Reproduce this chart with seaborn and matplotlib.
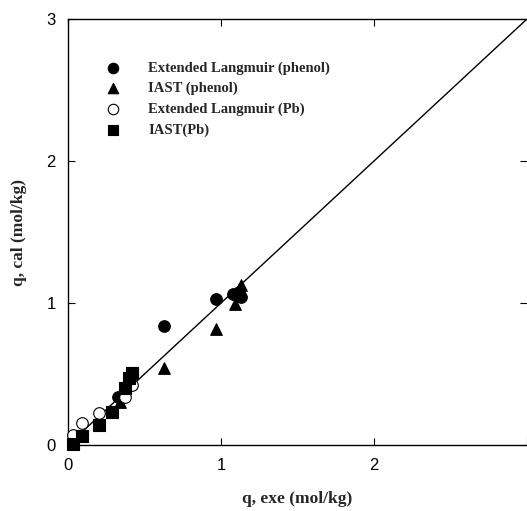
import numpy as np
import pandas as pd
import matplotlib
matplotlib.use("Agg")
import matplotlib.pyplot as plt
import seaborn as sns

# =====================
# DATA
# =====================
el_phenol_x = [0.33, 0.63, 0.97, 1.08, 1.12, 1.13]
el_phenol_y = [0.34, 0.84, 1.03, 1.06, 1.08, 1.04]

iast_phenol_x = [0.34, 0.63, 0.97, 1.09, 1.12, 1.13]
iast_phenol_y = [0.30, 0.54, 0.82, 0.99, 1.10, 1.13]

el_pb_x = [0.03, 0.09, 0.20, 0.37, 0.42]
el_pb_y = [0.07, 0.155, 0.225, 0.34, 0.42]

iast_pb_x = [0.03, 0.09, 0.20, 0.29, 0.37, 0.40, 0.42]
iast_pb_y = [0.01, 0.06, 0.14, 0.23, 0.40, 0.47, 0.51]

series = [
    ("Extended Langmuir (phenol)", el_phenol_x, el_phenol_y, "o", "black"),
    ("IAST (phenol)", iast_phenol_x, iast_phenol_y, "^", "black"),
    ("Extended Langmuir (Pb)", el_pb_x, el_pb_y, "o", "white"),
    ("IAST(Pb)", iast_pb_x, iast_pb_y, "s", "black"),
]

# =====================
# PLOT
# =====================
sns.set_style("ticks")
plt.rcParams["font.family"] = ["Liberation Sans", "DejaVu Sans"]

fig = plt.figure(figsize=(5.27, 5.11), dpi=100)
ax = fig.add_axes([68 / 527, 66 / 511, 459 / 527, 426 / 511])

# 1:1 line
ax.plot([0, 3], [0, 3], color="black", lw=1.0, zorder=1)

for label, xs, ys, mk, fc in series:
    df = pd.DataFrame({"x": xs, "y": ys})
    sns.scatterplot(data=df, x="x", y="y", marker=mk, s=70, color=fc,
                    edgecolor="black", linewidth=0.8, ax=ax, label=label,
                    zorder=3, clip_on=False)

ax.set_xlim(0, 3)
ax.set_ylim(0, 3)
ax.set_xticks([0, 1, 2, 3])
ax.set_xticklabels(["0", "1", "2", ""])
ax.set_yticks([0, 1, 2, 3])
ax.tick_params(direction="in", length=5, width=0.8, labelsize=12,
               top=True, right=True, pad=9, colors="black")
for sp in ["left", "bottom", "top"]:
    ax.spines[sp].set_linewidth(1.0)
    ax.spines[sp].set_color("black")
ax.spines["right"].set_visible(False)

serif = {"family": "Liberation Serif", "weight": "bold", "size": 12.5}
ax.set_xlabel("q, exe (mol/kg)", fontdict=serif, labelpad=13)
ax.set_ylabel("q, cal (mol/kg)", fontdict=serif, labelpad=14)

leg = ax.legend(loc="upper left", bbox_to_anchor=(0.045, 0.925), frameon=False,
                prop={"family": "Liberation Serif", "weight": "bold", "size": 10.5},
                handletextpad=1.4, labelspacing=0.5, borderpad=0.2,
                markerscale=0.9)

fig.savefig("out.png", dpi=100)
